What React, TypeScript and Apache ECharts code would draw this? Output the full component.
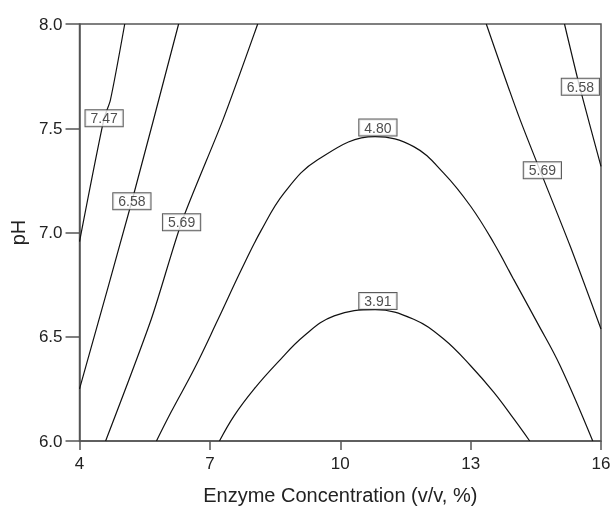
import React, { useEffect, useRef } from "react";
import * as echarts from "echarts";

// Tick values
const xTicks = [4, 7, 10, 13, 16];
const yTicks = [6.0, 6.5, 7.0, 7.5, 8.0];

// Contour lines: [enzyme concentration, pH]
const contour747 = [[5.04, 8.0], [4.71, 7.635], [4.566, 7.548], [4.0, 6.956]];
const contour658Left = [[6.28, 8.0], [5.205, 7.15], [4.0, 6.25]];
const contour569Left = [[8.1, 8.0], [7.3, 7.54], [6.35, 7.049], [5.65, 6.584], [4.6, 6.0]];
const contour480 = [
  [5.77, 6.0], [6.11, 6.14], [6.65, 6.35], [7.18, 6.58], [7.72, 6.82], [8.18, 7.01],
  [8.71, 7.19], [9.48, 7.349], [10.8, 7.46], [11.69, 7.412], [12.38, 7.285],
  [13.0, 7.126], [13.53, 6.951], [13.99, 6.775], [14.53, 6.569], [15.06, 6.361], [15.81, 6.0],
];
const contour391 = [
  [7.22, 6.0], [7.56, 6.122], [8.02, 6.25], [8.56, 6.377], [9.17, 6.505], [9.86, 6.6],
  [10.8, 6.63], [11.69, 6.584], [12.38, 6.489], [13.0, 6.361], [13.53, 6.234], [13.99, 6.107], [14.36, 6.0],
];
const contour569Right = [[13.36, 8.0], [14.14, 7.54], [15.29, 6.935], [16.0, 6.537]];
const contour658Right = [[15.16, 8.0], [15.52, 7.69], [16.0, 7.317]];

// Contour labels
const labelNames = ["7.47", "6.58", "5.69", "4.80", "3.91", "5.69", "6.58"];
const labelX = [4.566, 5.205, 6.348, 10.866, 10.866, 14.651, 15.526];
const labelY = [7.548, 7.15, 7.049, 7.503, 6.672, 7.298, 7.699];

const FONT = "'Liberation Sans', Arial, sans-serif";

export default function App() {
  const ref = useRef<HTMLDivElement>(null);
  useEffect(() => {
    if (!ref.current) return;
    const chart = echarts.init(ref.current, undefined, { renderer: "svg" });
    const straight = [contour747, contour658Left, contour569Left, contour569Right, contour658Right];
    const curved = [contour480, contour391];
    const mk = (d: number[][], s: number) => ({
      type: "line",
      data: d,
      symbol: "none",
      smooth: s,
      lineStyle: { color: "#111", width: 1.2 },
      silent: true,
      z: 2,
    });
    const lineSeries = [...straight.map((d) => mk(d, 0.25)), ...curved.map((d) => mk(d, 0.4))];
    chart.setOption({
      animation: false,
      textStyle: { fontFamily: FONT },
      grid: {
        left: 78,
        right: 13,
        top: 24,
        bottom: 68,
        show: true,
        borderColor: "#555",
        borderWidth: 1.5,
        backgroundColor: "transparent",
      },
      xAxis: {
        type: "value",
        min: 4,
        max: 16,
        name: "Enzyme Concentration (v/v, %)",
        nameLocation: "middle",
        nameGap: 44,
        nameTextStyle: { fontSize: 20, color: "#222", fontFamily: FONT },
        axisLine: { show: true, lineStyle: { color: "#555", width: 1.5 } },
        axisTick: { show: true, length: 9, customValues: xTicks, lineStyle: { color: "#555", width: 1.5 } },
        axisLabel: { customValues: xTicks, fontSize: 17, color: "#222", margin: 14, fontFamily: FONT },
        splitLine: { show: false },
      },
      yAxis: {
        type: "value",
        min: 6,
        max: 8,
        interval: 0.5,
        name: "pH",
        nameLocation: "middle",
        nameGap: 50,
        nameTextStyle: { fontSize: 20, color: "#222", fontFamily: FONT },
        axisLine: { show: true, lineStyle: { color: "#555", width: 1.5 } },
        axisTick: { show: true, length: 14, customValues: yTicks, lineStyle: { color: "#555", width: 1.5 } },
        axisLabel: {
          fontSize: 17,
          color: "#222",
          margin: 17,
          fontFamily: FONT,
          formatter: (v: number) => v.toFixed(1),
          customValues: yTicks,
        },
        splitLine: { show: false },
      },
      series: [
        ...lineSeries,
        {
          type: "scatter",
          symbolSize: 1,
          itemStyle: { color: "rgba(0,0,0,0)" },
          z: 5,
          silent: true,
          data: labelNames.map((n, i) => ({ name: n, value: [labelX[i], labelY[i]] })),
          label: {
            show: true,
            position: "inside",
            formatter: "{b}",
            fontSize: 14,
            color: "#222",
            fontFamily: FONT,
            backgroundColor: "#fff",
            borderColor: "#333",
            borderWidth: 1,
            padding: [1, 5, 1, 5],
            lineHeight: 14,
          },
        },
      ],
    });
    return () => chart.dispose();
  }, []);
  return <div ref={ref} style={{ width: 614, height: 510, position: "fixed", left: 0, top: 0 }} />;
}
